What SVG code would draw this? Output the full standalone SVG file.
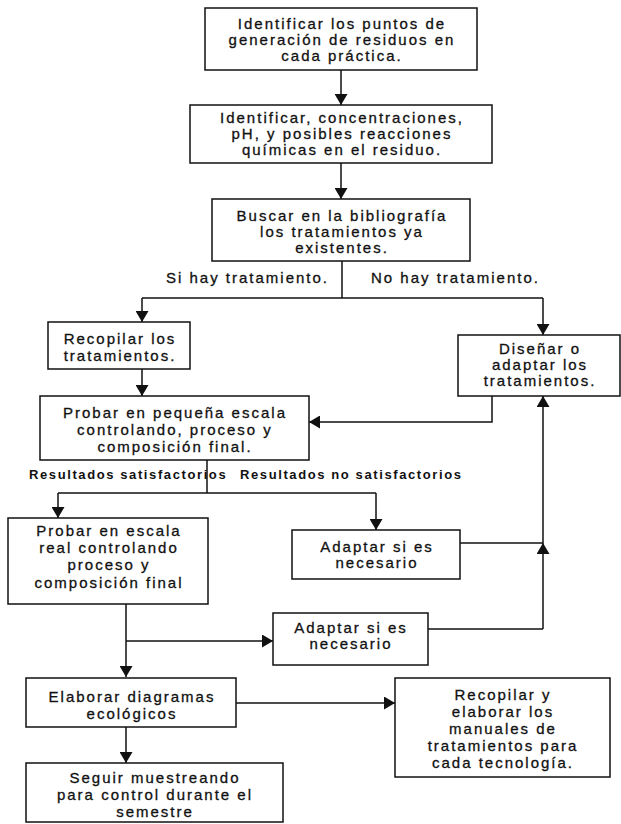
<svg xmlns="http://www.w3.org/2000/svg" width="621" height="824" viewBox="0 0 621 824">
  <style>
    .box { fill: #ffffff; stroke: #111111; stroke-width: 1.5; }
    .t { font-family: "Liberation Sans", Arial, sans-serif; font-size: 15px; fill: #111111; stroke: #111111; stroke-width: 0.3; text-anchor: middle; letter-spacing: 2px; }
    .lbl { font-family: "Liberation Sans", Arial, sans-serif; font-size: 15px; fill: #111111; stroke: #111111; stroke-width: 0.3; letter-spacing: 2px; }
    .lbs { font-family: "Liberation Sans", Arial, sans-serif; font-size: 13px; font-weight: bold; fill: #111111; letter-spacing: 1.6px; }
    .ln { fill: none; stroke: #111111; stroke-width: 1.5; }
    .ar { fill: none; stroke: #111111; stroke-width: 1.5; marker-end: url(#head); }
  </style>
  <defs>
    <!-- filled triangular arrowhead shared by every connector -->
    <marker id="head" viewBox="0 0 10 10" refX="10" refY="5" markerWidth="11" markerHeight="13" markerUnits="userSpaceOnUse" orient="auto" preserveAspectRatio="none">
      <path d="M0,0 L10,5 L0,10 z" fill="#111111"/>
    </marker>
  </defs>
  <rect width="621" height="824" fill="#ffffff"/>

  <g id="connectors">
    <path class="ar" d="M341,70 V105"/>
    <path class="ar" d="M341,163 V199"/>
    <path class="ln" d="M342,261 V298"/>
    <path class="ln" d="M142,298 H543"/>
    <path class="ar" d="M142,298 V322"/>
    <path class="ar" d="M543,298 V335"/>
    <path class="ar" d="M142,369 V396"/>
    <path class="ar" d="M492,396 V422 H309"/>
    <path class="ar" d="M543,629 V543"/>
    <path class="ar" d="M543,543 V396"/>
    <path class="ln" d="M460,543 H543"/>
    <path class="ln" d="M428,629 H543"/>
    <path class="ln" d="M207,460 V493"/>
    <path class="ln" d="M58,493 H376"/>
    <path class="ar" d="M58,493 V518"/>
    <path class="ar" d="M376,493 V530"/>
    <path class="ar" d="M126,604 V677"/>
    <path class="ar" d="M126,641 H273"/>
    <path class="ar" d="M126,727 V763"/>
    <path class="ar" d="M236,703 H395"/>
    <text class="lbl" x="329" y="283" text-anchor="end">Si hay tratamiento.</text>
    <text class="lbl" x="371" y="283">No hay tratamiento.</text>
    <text class="lbs" x="29" y="479">Resultados satisfactorios</text>
    <text class="lbs" x="240" y="479">Resultados no satisfactorios</text>
  </g>

  <g id="identificar-puntos">
    <rect class="box" x="205" y="8" width="272" height="62"/>
    <text class="t" x="342" y="29">Identificar los puntos de</text>
    <text class="t" x="342" y="45">generación de residuos en</text>
    <text class="t" x="342" y="61">cada práctica.</text>
  </g>

  <g id="identificar-concentraciones">
    <rect class="box" x="190" y="105" width="302" height="58"/>
    <text class="t" x="342" y="123">Identificar, concentraciones,</text>
    <text class="t" x="342" y="139">pH, y posibles reacciones</text>
    <text class="t" x="342" y="155">químicas en el residuo.</text>
  </g>

  <g id="buscar">
    <rect class="box" x="212" y="199" width="258" height="62"/>
    <text class="t" x="342" y="221">Buscar en la bibliografía</text>
    <text class="t" x="342" y="237">los tratamientos ya</text>
    <text class="t" x="342" y="253">existentes.</text>
  </g>

  <g id="recopilar">
    <rect class="box" x="48" y="322" width="142" height="47"/>
    <text class="t" x="120" y="344">Recopilar los</text>
    <text class="t" x="120" y="361">tratamientos.</text>
  </g>

  <g id="disenar">
    <rect class="box" x="458" y="335" width="162" height="61"/>
    <text class="t" x="540" y="354">Diseñar o</text>
    <text class="t" x="540" y="370">adaptar los</text>
    <text class="t" x="540" y="386">tratamientos.</text>
  </g>

  <g id="probar-pequena">
    <rect class="box" x="40" y="396" width="269" height="64"/>
    <text class="t" x="175" y="418">Probar en pequeña escala</text>
    <text class="t" x="175" y="435">controlando, proceso y</text>
    <text class="t" x="175" y="452">composición final.</text>
  </g>

  <g id="probar-real">
    <rect class="box" x="8" y="518" width="200" height="86"/>
    <text class="t" x="109" y="536">Probar en escala</text>
    <text class="t" x="109" y="553">real controlando</text>
    <text class="t" x="109" y="570">proceso y</text>
    <text class="t" x="109" y="588">composición final</text>
  </g>

  <g id="adaptar-1">
    <rect class="box" x="292" y="530" width="168" height="49"/>
    <text class="t" x="377" y="552">Adaptar si es</text>
    <text class="t" x="377" y="568">necesario</text>
  </g>

  <g id="adaptar-2">
    <rect class="box" x="273" y="613" width="155" height="52"/>
    <text class="t" x="351" y="633">Adaptar si es</text>
    <text class="t" x="351" y="649">necesario</text>
  </g>

  <g id="elaborar">
    <rect class="box" x="26" y="678" width="210" height="49"/>
    <text class="t" x="132" y="702">Elaborar diagramas</text>
    <text class="t" x="132" y="719">ecológicos</text>
  </g>

  <g id="recopilar-manuales">
    <rect class="box" x="395" y="678" width="215" height="99"/>
    <text class="t" x="503" y="700">Recopilar y</text>
    <text class="t" x="503" y="717">elaborar los</text>
    <text class="t" x="503" y="734">manuales de</text>
    <text class="t" x="503" y="751">tratamientos  para</text>
    <text class="t" x="503" y="768">cada tecnología.</text>
  </g>

  <g id="seguir">
    <rect class="box" x="26" y="763" width="257" height="59"/>
    <text class="t" x="155" y="783">Seguir muestreando</text>
    <text class="t" x="155" y="800">para control durante el</text>
    <text class="t" x="155" y="817">semestre</text>
  </g>
</svg>
